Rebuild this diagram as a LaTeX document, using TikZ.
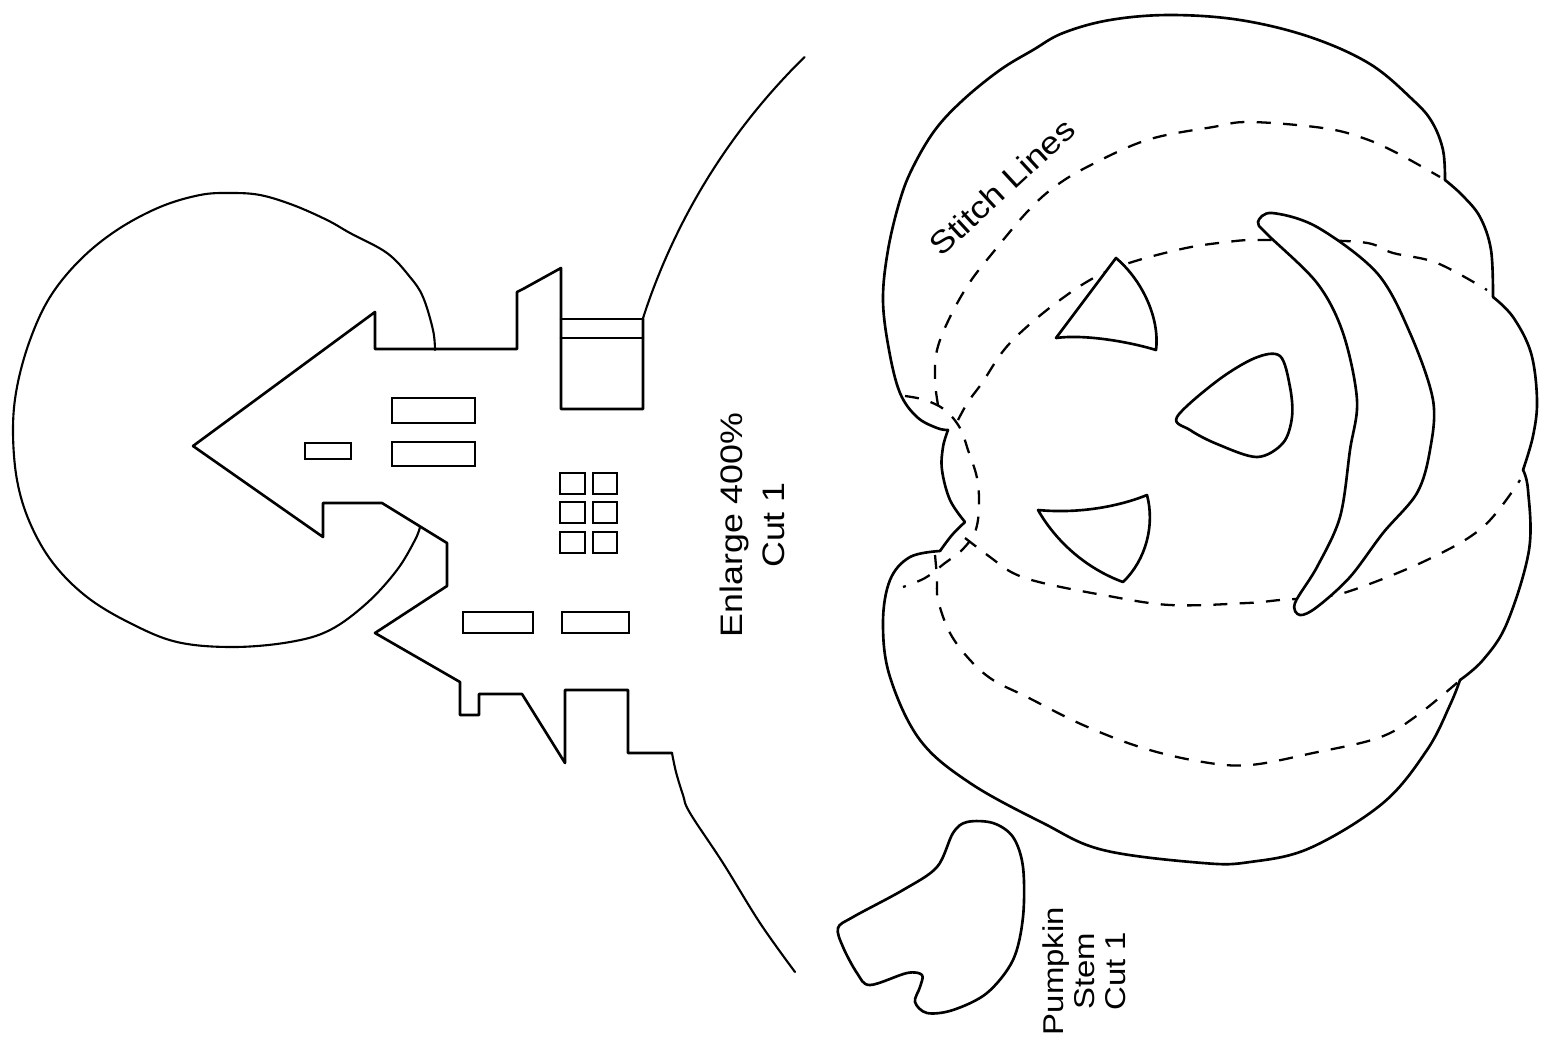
\documentclass[tikz,border=0pt]{standalone}
\usepackage{fontspec}
\setmainfont{Liberation Sans}
\newfontfamily\lblfont[FakeStretch=1.15]{Liberation Sans}
\begin{document}
\begin{tikzpicture}[x=0.02cm,y=-0.02cm,
  outl/.style={line width=1.5pt, line join=round, line cap=round},
  thinoutl/.style={line width=1.2pt, line join=round, line cap=round},
  winbox/.style={line width=1.3pt},
  stitch/.style={line width=1.3pt, dash pattern=on 8pt off 7pt},
  hole/.style={line width=1.5pt, fill=white},
  lbl/.style={inner sep=0pt, align=center}]
\fill[white] (0,0) rectangle (1555,1046);
\useasboundingbox (0,0) rectangle (1555,1046);

% ---------------- moon ----------------
\draw[thinoutl] plot[smooth, tension=0.6] coordinates {(435,350) (433,330) (423,297) (410,277) (387,253) (350,233) (327,220) (293,205) (260,195) (230,193) (200,195) (160,207) (117,230) (80,260) (50,297) (30,340) (17,387) (13,430) (17,480) (30,523) (53,563) (87,597) (130,623) (177,642) (233,647) (290,642) (330,630) (367,603) (397,570) (415,540) (420,527)};

% ---------------- house ----------------
\draw[outl] (193,446) -- (375,312) -- (375,349) -- (517,349) -- (517,292) -- (523,289) -- (561,268) -- (561,409) -- (643,409) -- (643,319);
\draw[outl] (561,319) -- (643,319) (561,338) -- (643,338);
\draw[outl] (193,446) -- (323,537) -- (323,503) -- (382,503) -- (447,543) -- (447,586) -- (375,633) -- (460,682) -- (460,715) -- (479,715) -- (479,694) -- (522,694) -- (565,763) -- (565,690) -- (628,690) -- (628,753) -- (672,753);

% windows
\draw[winbox] (392,398) rectangle (475,423);
\draw[winbox] (392,442) rectangle (475,466);
\draw[winbox] (305,443) rectangle (351,459);
\draw[winbox] (560,473) rectangle (585,494);
\draw[winbox] (593,473) rectangle (617,494);
\draw[winbox] (560,502) rectangle (585,523);
\draw[winbox] (593,502) rectangle (617,523);
\draw[winbox] (560,532) rectangle (585,553);
\draw[winbox] (593,532) rectangle (617,553);
\draw[winbox] (463,612) rectangle (533,633);
\draw[winbox] (562,612) rectangle (629,633);

% big background arc
\draw[thinoutl] plot[domain=134.4:162.2, samples=50] ({1253+641*cos(\x)},{515-641*sin(\x)});
\draw[thinoutl] plot[smooth, tension=0.6] coordinates {(672,753) (676,772) (683,795) (690,813) (723,863) (760,923) (795,972)};

% ---------------- stitch lines ----------------
% A (outer top)
\draw[stitch] plot[smooth, tension=0.6] coordinates {(938,405) (935,380) (937,350) (950,317) (970,282) (995,250) (1027,212) (1053,188) (1087,167) (1147,140) (1213,127) (1250,122) (1323,128) (1363,138) (1397,153) (1440,177)};
% B
\draw[stitch] plot[smooth, tension=0.6] coordinates {(958,420) (968,402) (982,383) (1010,343) (1060,300) (1110,270) (1177,250) (1227,242) (1263,240) (1360,242) (1393,253) (1437,263) (1487,290)};
% bracket around stem
\draw[stitch] plot[smooth, tension=0.6] coordinates {(905,396) (925,400) (945,410) (960,428) (968,450) (977,478) (979,507) (975,532) (962,550) (945,563) (925,578) (903,587)};
% C
\draw[stitch] plot[smooth, tension=0.6] coordinates {(965,538) (990,557) (1013,573) (1043,583) (1103,595) (1170,605) (1247,603) (1280,600) (1320,597) (1353,590) (1427,560) (1483,527) (1520,480)};
% E (lowest)
\draw[stitch] plot[smooth, tension=0.6] coordinates {(935,555) (937,578) (938,600) (950,633) (970,660) (993,680) (1027,697) (1083,725) (1143,748) (1203,762) (1250,765) (1313,753) (1378,738) (1415,717) (1458,682)};

% ---------------- pumpkin outline ----------------
\draw[outl] plot[smooth, tension=0.6] coordinates {(948,430) (937,428) (917,417) (900,393) (889,350) (883,300) (888,250) (900,200) (913,167) (935,130) (963,100) (1000,70) (1033,50) (1063,33) (1110,20) (1170,15) (1240,20) (1310,37) (1370,64) (1413,100) (1432,122) (1443,150) (1445,180)};
\draw[outl] plot[smooth, tension=0.6] coordinates {(1445,180) (1462,195) (1480,217) (1491,250) (1493,297)};
\draw[outl] plot[smooth, tension=0.6] coordinates {(1493,297) (1513,317) (1531,353) (1537,400) (1533,436) (1523,470)};
\draw[outl] plot[smooth, tension=0.6] coordinates {(1523,470) (1528,490) (1529,550) (1507,623) (1483,660) (1460,680)};
\draw[outl] plot[smooth, tension=0.6] coordinates {(1460,680) (1450,705) (1427,750) (1383,803) (1310,848) (1250,862) (1203,863) (1103,850) (1043,823) (970,783) (920,740) (890,677) (883,623) (890,580) (910,557) (940,551)};
\draw[outl] plot[smooth, tension=0.6] coordinates {(940,551) (952,535) (965,522)};
\draw[outl] plot[smooth, tension=0.6] coordinates {(965,522) (950,500) (942,470) (943,447) (948,430)};

% ---------------- face ----------------
\draw[hole, line join=round] (1116,258) -- (1056,338) .. controls (1085,334) and (1130,342) .. (1156,350) .. controls (1160,318) and (1142,280) .. cycle;
\draw[hole] plot[smooth cycle, tension=0.55] coordinates {(1177,417) (1217,381) (1255,358) (1280,356) (1290,387) (1292,417) (1283,443) (1257,457) (1217,444) (1190,430)};
\draw[hole, line join=round] (1038,510) .. controls (1080,514) and (1120,506) .. (1147,495) .. controls (1155,525) and (1146,560) .. (1123,582) .. controls (1090,570) and (1058,545) .. cycle;
\draw[hole] plot[smooth cycle, tension=0.55] coordinates {(1258,222) (1272,213) (1317,227) (1377,273) (1410,333) (1433,400) (1430,450) (1417,493) (1383,533) (1350,577) (1317,607) (1300,615) (1295,603) (1317,567) (1340,517) (1350,450) (1357,400) (1343,333) (1317,283) (1267,234)};

% ---------------- stem ----------------
\draw[outl] plot[smooth cycle, tension=0.55] coordinates {(838,928) (853,917) (903,890) (937,867) (953,833) (967,822) (993,823) (1013,837) (1023,867) (1023,917) (1013,960) (987,993) (953,1010) (927,1013) (915,1002) (920,987) (922,975) (907,973) (870,985) (857,973) (843,947)};

% ---------------- labels ----------------
\node[lbl, rotate=90, font=\lblfont\fontsize{17.7}{24}\selectfont] (enlarge) at (752,525) {Enlarge 400\%\\Cut 1};
\node[lbl, rotate=90, font=\lblfont\fontsize{16.3}{17.6}\selectfont] (stemlabel) at (1084,971) {Pumpkin\\Stem\\Cut 1};
\node[lbl, rotate=42.8, font=\lblfont\fontsize{17.7}{21}\selectfont] (stitchlabel) at (1002,187) {Stitch Lines};
\end{tikzpicture}
\end{document}
